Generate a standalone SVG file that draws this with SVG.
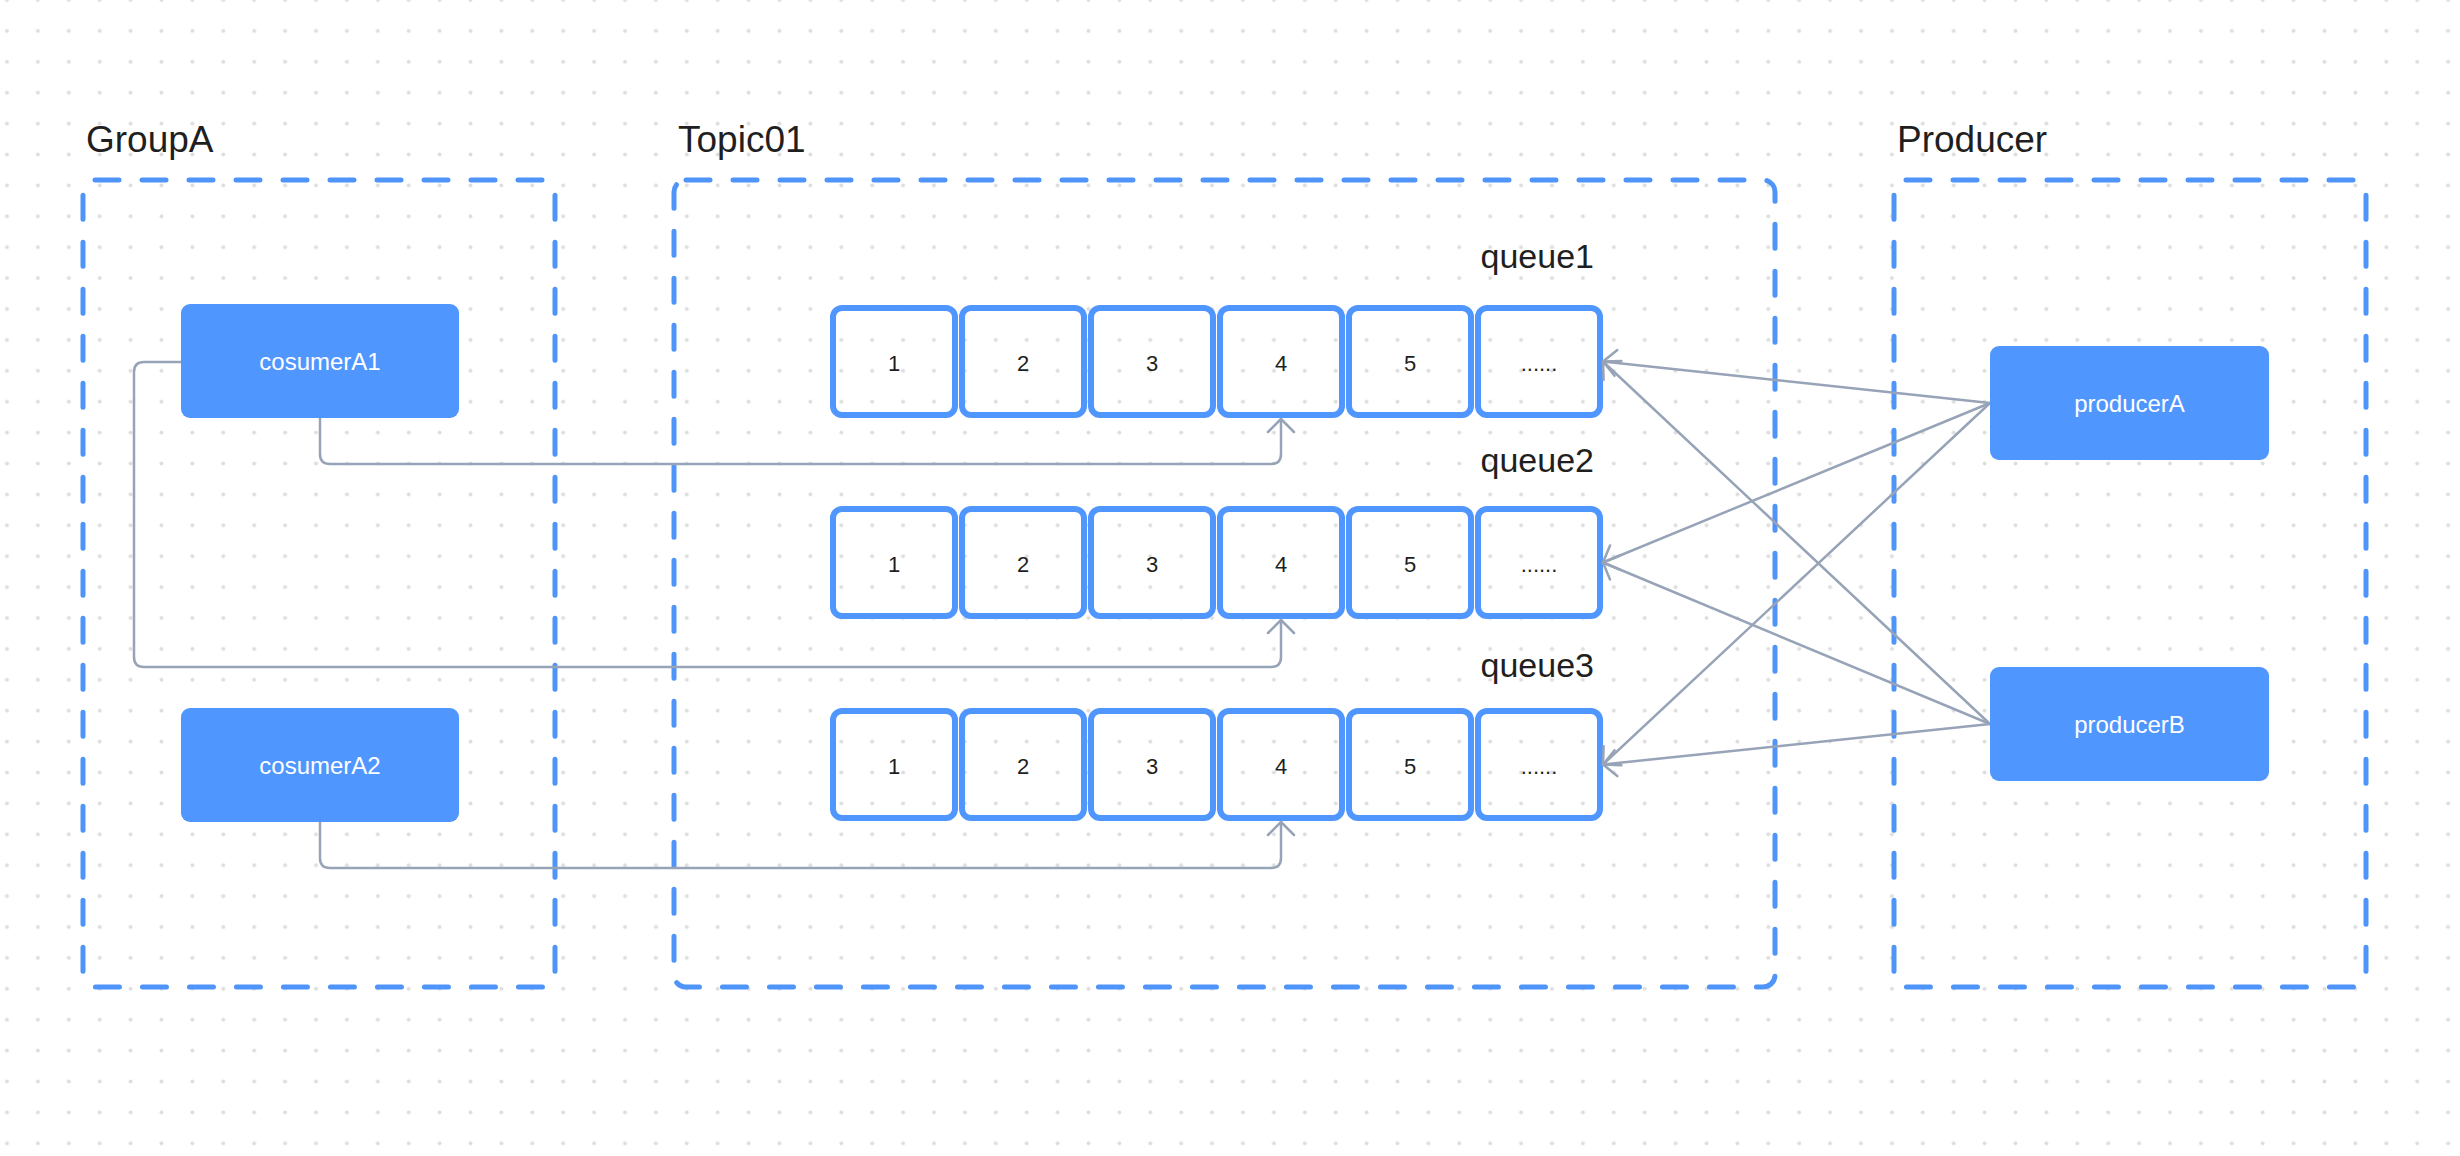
<svg xmlns="http://www.w3.org/2000/svg" width="2460" height="1156" viewBox="0 0 2460 1156">
  <defs>
    <pattern id="dots" patternUnits="userSpaceOnUse" x="-8.45" y="-15.45" width="30.9" height="30.9">
      <circle cx="15.45" cy="15.45" r="2" fill="#dedede"/>
    </pattern>
    <marker id="arr" viewBox="-20 -20 40 40" markerWidth="40" markerHeight="40" refX="0" refY="0" orient="auto" markerUnits="userSpaceOnUse" overflow="visible">
      <path d="M-13,-13 L0,0 L-13,13" fill="none" stroke="#97a3b7" stroke-width="2.5" stroke-linecap="round" stroke-linejoin="round"/>
    </marker>
  </defs>
  <style>
    .title { font-family: "Liberation Sans", Arial, sans-serif; font-size: 37px; fill: #1f1f22; }
    .qlabel { font-family: "Liberation Sans", Arial, sans-serif; font-size: 34px; fill: #1f1f22; text-anchor: end; }
    .group { fill: none; stroke: #4f94f8; stroke-width: 5; stroke-dasharray: 24 23; stroke-linecap: round; }
    .node rect { fill: #5096ff; }
    .node text { font-family: "Liberation Sans", Arial, sans-serif; font-size: 24px; fill: #ffffff; text-anchor: middle; dominant-baseline: central; }
    .cell rect { fill: none; stroke: #5096ff; stroke-width: 6; }
    .cell text { font-family: "Liberation Sans", Arial, sans-serif; font-size: 22px; fill: #1f1f22; text-anchor: middle; dominant-baseline: central; }
    .conn { fill: none; stroke: #97a3b7; stroke-width: 2.5; stroke-linecap: round; stroke-linejoin: round; }
  </style>

  <rect x="0" y="0" width="2460" height="1156" fill="#ffffff"/>
  <rect x="0" y="0" width="2460" height="1156" fill="url(#dots)"/>

  <!-- Groups -->
  <g id="groupA">
    <rect class="group" x="83" y="180" width="472" height="807" rx="12"/>
    <text class="title" x="86" y="152">GroupA</text>
  </g>
  <g id="topic01">
    <rect class="group" x="674" y="180" width="1101" height="807" rx="12"/>
    <text class="title" x="678" y="152">Topic01</text>
  </g>
  <g id="producerGroup">
    <rect class="group" x="1894" y="180" width="472" height="807" rx="12"/>
    <text class="title" x="1897" y="152">Producer</text>
  </g>

  <!-- Queue labels -->
  <text id="queue1-label" class="qlabel" x="1594" y="268">queue1</text>
  <text id="queue2-label" class="qlabel" x="1594" y="472">queue2</text>
  <text id="queue3-label" class="qlabel" x="1594" y="677">queue3</text>

  <!-- queue1 -->
  <g id="queue1">
    <g class="cell"><rect x="833" y="308" width="122" height="107" rx="9"/><text x="894" y="363">1</text></g>
    <g class="cell"><rect x="962" y="308" width="122" height="107" rx="9"/><text x="1023" y="363">2</text></g>
    <g class="cell"><rect x="1091" y="308" width="122" height="107" rx="9"/><text x="1152" y="363">3</text></g>
    <g class="cell"><rect x="1220" y="308" width="122" height="107" rx="9"/><text x="1281" y="363">4</text></g>
    <g class="cell"><rect x="1349" y="308" width="122" height="107" rx="9"/><text x="1410" y="363">5</text></g>
    <g class="cell"><rect x="1478" y="308" width="122" height="107" rx="9"/><text x="1539" y="363">......</text></g>
  </g>
  <!-- queue2 -->
  <g id="queue2">
    <g class="cell"><rect x="833" y="509" width="122" height="107" rx="9"/><text x="894" y="564">1</text></g>
    <g class="cell"><rect x="962" y="509" width="122" height="107" rx="9"/><text x="1023" y="564">2</text></g>
    <g class="cell"><rect x="1091" y="509" width="122" height="107" rx="9"/><text x="1152" y="564">3</text></g>
    <g class="cell"><rect x="1220" y="509" width="122" height="107" rx="9"/><text x="1281" y="564">4</text></g>
    <g class="cell"><rect x="1349" y="509" width="122" height="107" rx="9"/><text x="1410" y="564">5</text></g>
    <g class="cell"><rect x="1478" y="509" width="122" height="107" rx="9"/><text x="1539" y="564">......</text></g>
  </g>
  <!-- queue3 -->
  <g id="queue3">
    <g class="cell"><rect x="833" y="711" width="122" height="107" rx="9"/><text x="894" y="766">1</text></g>
    <g class="cell"><rect x="962" y="711" width="122" height="107" rx="9"/><text x="1023" y="766">2</text></g>
    <g class="cell"><rect x="1091" y="711" width="122" height="107" rx="9"/><text x="1152" y="766">3</text></g>
    <g class="cell"><rect x="1220" y="711" width="122" height="107" rx="9"/><text x="1281" y="766">4</text></g>
    <g class="cell"><rect x="1349" y="711" width="122" height="107" rx="9"/><text x="1410" y="766">5</text></g>
    <g class="cell"><rect x="1478" y="711" width="122" height="107" rx="9"/><text x="1539" y="766">......</text></g>
  </g>

  <!-- Connectors -->
  <g id="connectors">
    <path class="conn" marker-end="url(#arr)" d="M320 418 V454 Q320 464 330 464 H1271 Q1281 464 1281 454 V419"/>
    <path class="conn" marker-end="url(#arr)" d="M181 362 H144 Q134 362 134 372 V657 Q134 667 144 667 H1271 Q1281 667 1281 657 V620"/>
    <path class="conn" marker-end="url(#arr)" d="M320 822 V858 Q320 868 330 868 H1271 Q1281 868 1281 858 V822"/>
    <path class="conn" marker-end="url(#arr)" d="M1990 403 L1603 361.5"/>
    <path class="conn" marker-end="url(#arr)" d="M1990 403 L1603 562.5"/>
    <path class="conn" marker-end="url(#arr)" d="M1990 403 L1603 764.5"/>
    <path class="conn" marker-end="url(#arr)" d="M1990 724 L1603 361.5"/>
    <path class="conn" marker-end="url(#arr)" d="M1990 724 L1603 562.5"/>
    <path class="conn" marker-end="url(#arr)" d="M1990 724 L1603 764.5"/>
  </g>

  <!-- Nodes -->
  <g id="cosumerA1" class="node">
    <rect x="181" y="304" width="278" height="114" rx="9"/>
    <text x="320" y="361">cosumerA1</text>
  </g>
  <g id="cosumerA2" class="node">
    <rect x="181" y="708" width="278" height="114" rx="9"/>
    <text x="320" y="765">cosumerA2</text>
  </g>
  <g id="producerA" class="node">
    <rect x="1990" y="346" width="279" height="114" rx="9"/>
    <text x="2129.5" y="403">producerA</text>
  </g>
  <g id="producerB" class="node">
    <rect x="1990" y="667" width="279" height="114" rx="9"/>
    <text x="2129.5" y="724">producerB</text>
  </g>
</svg>
